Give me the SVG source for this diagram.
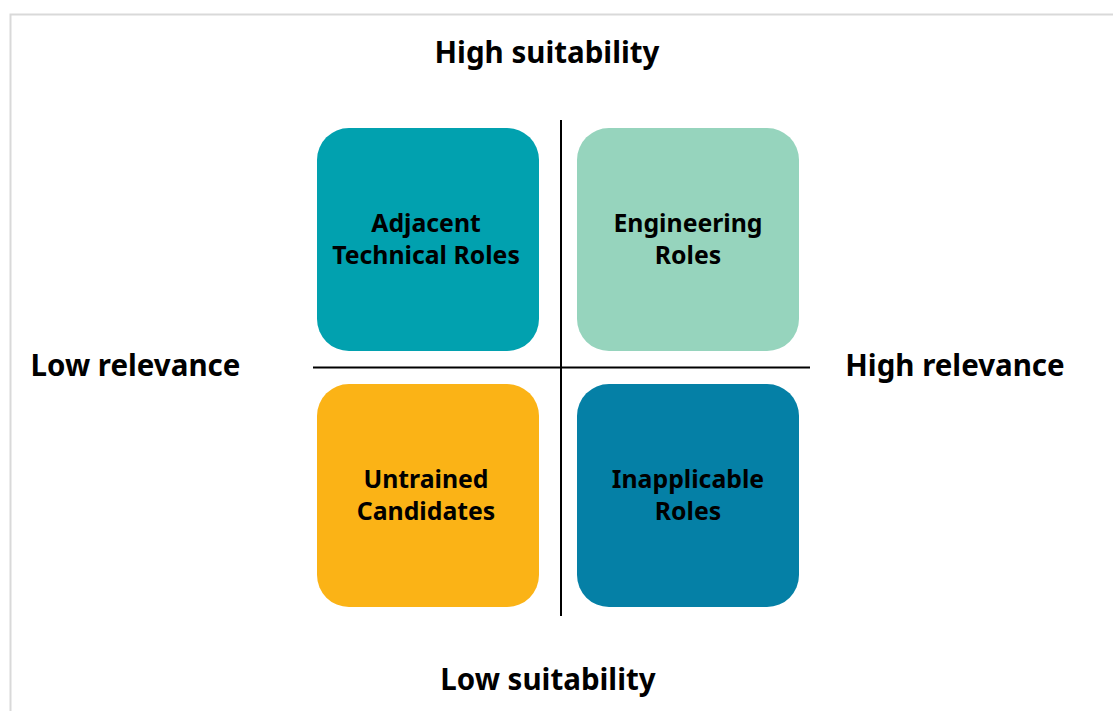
<svg xmlns="http://www.w3.org/2000/svg" width="1113" height="711" viewBox="0 0 1113 711">
<style>
.lbl{font-family:"Noto Sans","Open Sans",sans-serif;font-weight:700;font-size:29.5px;fill:#000;text-anchor:middle}
.txt{font-family:"Noto Sans","Open Sans",sans-serif;font-weight:700;font-size:24.8px;fill:#000;text-anchor:middle}
.ax{stroke:#000;stroke-width:2;fill:none}
</style>
<rect width="1113" height="711" fill="#fff"/>
<path d="M10.5 711 V14.5 H1113" stroke="#d9d9d9" stroke-width="2" fill="none"/>
<g id="axes">
<line class="ax" x1="561" y1="120" x2="561" y2="616"/>
<line class="ax" x1="313" y1="367.5" x2="810" y2="367.5"/>
</g>
<g id="label-high-suitability"><text class="lbl" x="547" y="63">High suitability</text></g>
<g id="label-low-suitability"><text class="lbl" x="548" y="690">Low suitability</text></g>
<g id="label-low-relevance"><text class="lbl" x="135.5" y="376">Low relevance</text></g>
<g id="label-high-relevance"><text class="lbl" x="955" y="376">High relevance</text></g>
<g id="adjacent">
<rect x="317" y="128" width="222" height="223" rx="32" fill="#01A1AF"/>
<text class="txt" x="426" y="232">Adjacent</text>
<text class="txt" x="426" y="264">Technical Roles</text>
</g>
<g id="engineering">
<rect x="577" y="128" width="222" height="223" rx="32" fill="#96D4BD"/>
<text class="txt" x="688" y="232">Engineering</text>
<text class="txt" x="688" y="264">Roles</text>
</g>
<g id="untrained">
<rect x="317" y="384" width="222" height="223" rx="32" fill="#FBB316"/>
<text class="txt" x="426" y="488">Untrained</text>
<text class="txt" x="426" y="520">Candidates</text>
</g>
<g id="inapplicable">
<rect x="577" y="384" width="222" height="223" rx="32" fill="#0580A6"/>
<text class="txt" x="688" y="488">Inapplicable</text>
<text class="txt" x="688" y="520">Roles</text>
</g>
</svg>
